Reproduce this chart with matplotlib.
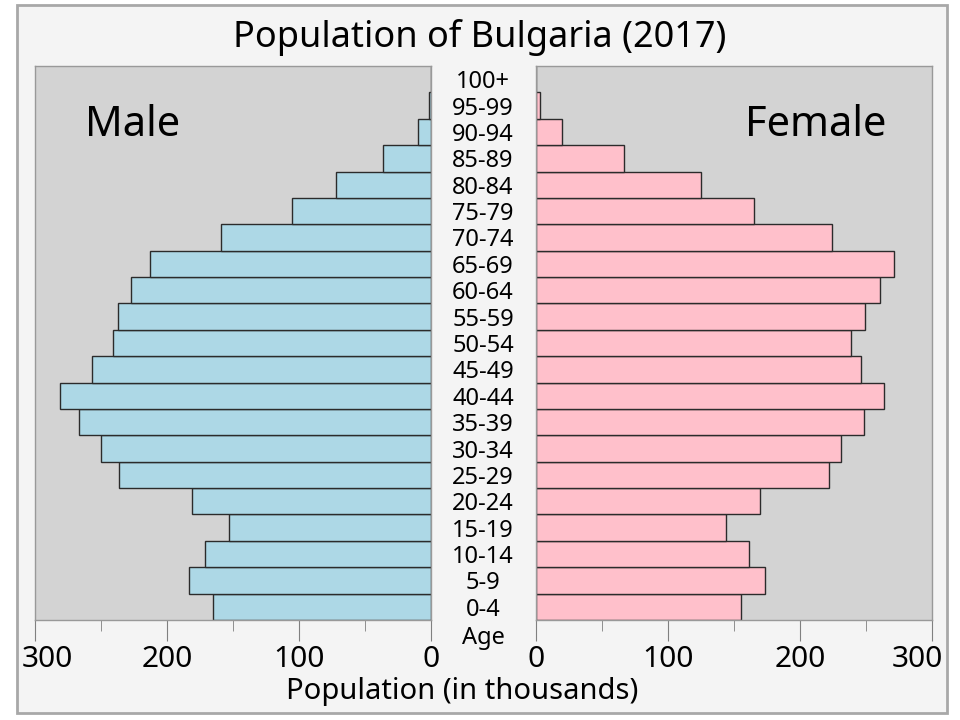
import matplotlib.pyplot as plt
from matplotlib.patches import Rectangle
from matplotlib.transforms import blended_transform_factory, ScaledTranslation

plt.rcParams['font.family'] = ['Noto Sans', 'DejaVu Sans']

age_groups = ['0-4', '5-9', '10-14', '15-19', '20-24', '25-29', '30-34',
              '35-39', '40-44', '45-49', '50-54', '55-59', '60-64', '65-69',
              '70-74', '75-79', '80-84', '85-89', '90-94', '95-99', '100+']
male = [165, 183, 171, 153, 181, 236, 250, 267, 281, 257, 241,
        237, 227, 213, 159, 105, 72, 36.6, 10, 1.5, 0.1]
female = [155.6, 173.2, 161.4, 143.9, 169.7, 222, 231, 248.5, 263.9, 246.2,
          238.6, 249.2, 260.6, 271.5, 224.2, 165.2, 125, 66.7, 19.7, 3, 0.2]
ticks = [0, 100, 200, 300]
minor_ticks = [50, 150, 250]

W, H = 960, 720
fig = plt.figure(figsize=(W / 100, H / 100), dpi=100, facecolor='white')
fig.patches.append(Rectangle((17 / W, 1 - 713 / H), (947 - 17) / W, (713 - 5) / H,
                             transform=fig.transFigure, facecolor='#f4f4f4',
                             edgecolor='#a8a8a8', linewidth=2, zorder=-10))

ax_l = fig.add_axes([35 / W, 1 - 620 / H, 396 / W, 554 / H])
ax_r = fig.add_axes([536 / W, 1 - 620 / H, 396 / W, 554 / H])

y = list(range(len(age_groups)))
ax_l.barh(y, male, height=1.0, color='#add8e6', edgecolor='#2b2b2b', linewidth=1)
ax_r.barh(y, female, height=1.0, color='#ffc0cb', edgecolor='#2b2b2b', linewidth=1)

ax_l.set_xlim(300, 0)
ax_r.set_xlim(0, 300)
for ax in (ax_l, ax_r):
    ax.set_facecolor('#d3d3d3')
    ax.set_ylim(-0.5, len(age_groups) - 0.5)
    ax.set_yticks([])
    ax.set_xticks(ticks)
    ax.set_xticks(minor_ticks, minor=True)
    ax.tick_params(axis='x', which='major', length=15, color='#808080',
                   labelsize=21.5, pad=3)
    ax.tick_params(axis='x', which='minor', length=8, color='#808080')
    for s in ax.spines.values():
        s.set_color('#999999')
        s.set_linewidth(1)

# keep the outer "300" labels inside the frame
fig.canvas.draw()
for ax, dx in ((ax_l, 12.5), (ax_r, -15)):
    for lab in ax.get_xticklabels():
        if lab.get_text() == '300':
            lab.set_transform(lab.get_transform() +
                              ScaledTranslation(dx / 100, 0, fig.dpi_scale_trans))

ax_l.text(50 / 396, 0.894, 'Male', transform=ax_l.transAxes, fontsize=30,
          ha='left', va='center')
ax_r.text(350 / 396, 0.894, 'Female', transform=ax_r.transAxes, fontsize=30,
          ha='right', va='center')

tr = blended_transform_factory(fig.transFigure, ax_l.transData) + \
    ScaledTranslation(0, -3 / 100, fig.dpi_scale_trans)
for i, lab in enumerate(age_groups):
    fig.text(483 / W, i, lab, transform=tr, ha='center', va='center', fontsize=17)
fig.text(483 / W, -1.07, 'Age', transform=tr, ha='center', va='center', fontsize=17)

fig.text(480 / W, 1 - 38 / H, 'Population of Bulgaria (2017)', ha='center',
         va='center', fontsize=26)
fig.text(462 / W, 1 - 691 / H, 'Population (in thousands)', ha='center',
         va='center', fontsize=21)

fig.savefig('out.png', dpi=100)
